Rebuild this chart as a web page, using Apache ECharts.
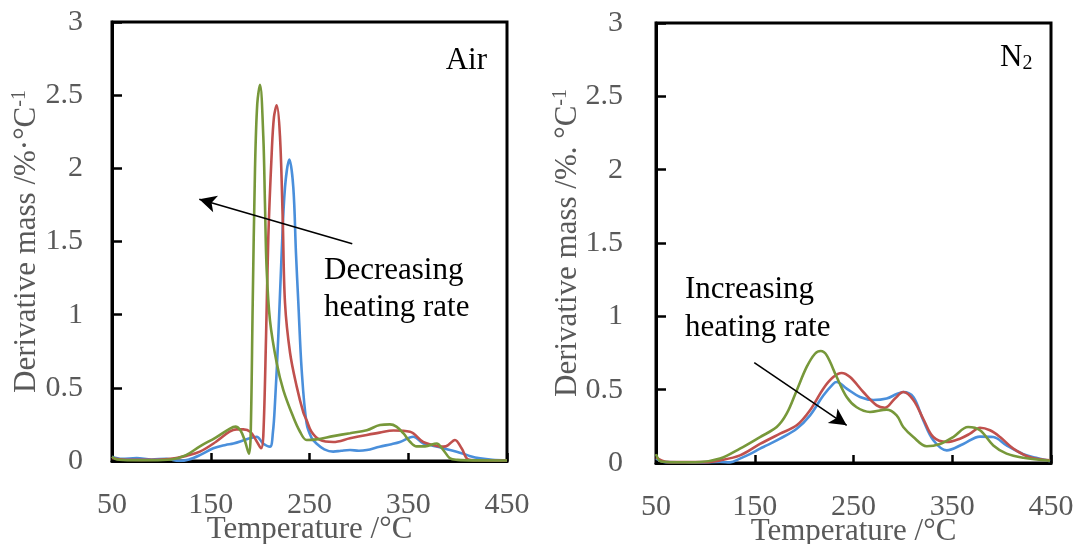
<!DOCTYPE html>
<html>
<head>
<meta charset="utf-8">
<script src="https://cdn.jsdelivr.net/npm/echarts@6/dist/echarts.min.js"></script>
<style>html,body{margin:0;padding:0;background:#fff;}#c{width:1083px;height:544px;}</style>
</head>
<body>
<div id="c"></div>
<script>
// ---- Air panel ----
const airBlueT = [50,60,75,90,105,118,128,139,152.6,165,173,186.4,196.5,203,210,213,215,218.4,221.8,225.2,229.6,233.6,236.3,238.7,242.1,247,252,257,265,274,282,291,300,308,321,333,341.6,355,365,372,385.5,399,405.8,412,422.7,435,450];
const airBlueV = [0.03,0.015,0.02,0.01,0.015,0.0,0.01,0.04,0.087,0.11,0.12,0.148,0.166,0.12,0.098,0.2,0.39,0.85,1.42,1.87,2.06,1.87,1.42,1.08,0.62,0.26,0.16,0.12,0.08,0.064,0.07,0.075,0.07,0.075,0.098,0.115,0.13,0.166,0.12,0.11,0.087,0.064,0.05,0.035,0.018,0.008,0.005];
const airRedT = [50,60,80,100,115,125,139,155,169,176,183,190,196,201,203.2,206,208.3,211.7,214,216.8,220.1,222.9,225.2,230.3,237,243.8,247,252,260.6,274,291,308,321,335,351.8,365,375,382,388,397.3,404,410.8,420,450];
const airRedV = [0.02,0.01,0.008,0.01,0.02,0.035,0.064,0.13,0.2,0.216,0.216,0.2,0.14,0.087,0.17,0.85,1.53,2.1,2.35,2.43,2.22,1.65,1.08,0.74,0.51,0.33,0.28,0.2,0.144,0.13,0.155,0.178,0.194,0.208,0.2,0.13,0.11,0.098,0.1,0.144,0.087,0.01,0.005,0.003];
const airGreenT = [50,55,70,90,110,125,139,155,169,175,180,184.5,188.7,190.4,192.5,194.8,197.1,199.9,203.2,204.9,206.6,210,216.8,223.5,233.6,240.4,247,257,274,291,308,321.4,331.5,338,345,352,358.5,367,378.8,385,392.3,400,420,450];
const airGreenV = [0.03,0.01,0.005,0.005,0.01,0.04,0.1,0.16,0.22,0.235,0.21,0.14,0.05,0.17,1.08,1.99,2.44,2.57,2.22,1.76,1.31,0.96,0.67,0.485,0.3,0.2,0.144,0.148,0.17,0.19,0.21,0.246,0.25,0.235,0.19,0.13,0.1,0.1,0.12,0.08,0.018,0.008,0.004,0.003];
// ---- N2 panel ----
const n2BlueT = [50,60,80,94.6,114.8,125,135,145,155.3,162,175.6,192.5,206,219.4,229.5,232.9,243.1,256.6,270,283.6,293.7,300.4,310.6,320.7,330.8,344.4,361.2,378.1,391.6,405,422,435,449];
const n2BlueV = [0.03,0.006,0.005,0.003,0.007,0.004,0.03,0.06,0.098,0.12,0.166,0.234,0.325,0.46,0.54,0.552,0.507,0.45,0.43,0.44,0.47,0.484,0.45,0.29,0.155,0.086,0.13,0.18,0.177,0.12,0.06,0.035,0.012];
const n2RedT = [50,60,80,100,114.8,135,155.3,175.6,192.5,206,219.4,229.5,238,246.5,259.9,273.5,281.9,292,300.4,310.6,320.7,330.8,344.4,357.8,368,378.1,388.2,398.4,411.8,428.7,449];
const n2RedV = [0.04,0.008,0.006,0.006,0.018,0.052,0.13,0.2,0.257,0.36,0.507,0.586,0.614,0.586,0.484,0.393,0.377,0.44,0.484,0.43,0.3,0.177,0.143,0.166,0.2,0.24,0.223,0.177,0.098,0.04,0.018];
const n2GreenT = [50,55,70,94.6,114.8,135,155.3,172.2,182.3,192.5,202.6,211,216.8,222.9,233,243.1,253.2,266.7,283.6,293.7,300.4,310.6,324.1,337.6,351,366,378.1,391.6,405,422,449];
const n2GreenV = [0.06,0.01,0.005,0.007,0.03,0.098,0.177,0.245,0.336,0.495,0.655,0.745,0.764,0.734,0.586,0.45,0.38,0.348,0.364,0.325,0.245,0.177,0.114,0.13,0.177,0.245,0.223,0.12,0.064,0.036,0.015];

const xTicks = [50,150,250,350,450];
const airArrow = [[293.3,1.485],[138.4,1.789]];
const n2Arrow = [[149.5,0.684],[243.1,0.257]];

const zip = (a,b)=>a.map((t,i)=>[t,b[i]]);
const FONT = 'Liberation Serif, Times New Roman, serif';
const GRAY = '#595959';
const COLORS = {blue:'#4a8fdb', red:'#c0504d', green:'#77983a'};

function xAx(idx){
  return {gridIndex:idx,type:'value',min:50,max:450,interval:100,
    axisLine:{show:true,onZero:false,lineStyle:{color:'#000',width:3}},
    axisTick:{show:true,inside:true,length:8,lineStyle:{color:'#000',width:2.5}},
    splitLine:{show:false},
    axisLabel:{color:GRAY,fontFamily:FONT,fontSize:30,margin:29,showMinLabel:true,showMaxLabel:true},
    name:'Temperature /°C',nameLocation:'middle',nameGap:53,nameMoveOverlap:false,
    nameTextStyle:{color:GRAY,fontFamily:FONT,fontSize:31}};
}
function yAx(idx,nameMain,gap,margin){
  return {gridIndex:idx,type:'value',min:0,max:3,interval:0.5,
    axisLine:{show:true,lineStyle:{color:'#000',width:3}},
    axisTick:{show:true,inside:true,length:10,lineStyle:{color:'#000',width:2.5}},
    splitLine:{show:false},
    axisLabel:{color:GRAY,fontFamily:FONT,fontSize:30,margin:margin},
    name:nameMain+'{sup|-1}',nameLocation:'middle',nameGap:gap,nameRotate:90,nameMoveOverlap:false,
    nameTextStyle:{color:GRAY,fontFamily:FONT,fontSize:31,
      rich:{sup:{color:GRAY,fontFamily:FONT,fontSize:20,verticalAlign:'top',padding:[0,0,14,0]}}}};
}
function ser(name,x,y,data,color){
  return {name:name,type:'line',xAxisIndex:x,yAxisIndex:y,data:data,showSymbol:false,symbol:'none',
    smooth:0.35,lineStyle:{color:color,width:2.6},itemStyle:{color:color},z:3};
}
function arrowSer(x,y,pts){
  return {type:'line',xAxisIndex:x,yAxisIndex:y,data:[],silent:true,
    markLine:{silent:true,symbol:['none','arrow'],symbolSize:[13,17],animation:false,
      lineStyle:{color:'#000',width:1.6,type:'solid'},label:{show:false},
      data:[[{coord:pts[0]},{coord:pts[1]}]]}};
}

const chart = echarts.init(document.getElementById('c'),null,{renderer:'canvas'});
chart.setOption({
  animation:false,
  backgroundColor:'#fff',
  grid:[
    {left:112,top:22,width:395,height:439,show:true,borderColor:'#000',borderWidth:3,backgroundColor:'transparent',containLabel:false,outerBoundsMode:'none'},
    {left:656,top:23,width:395,height:440,show:true,borderColor:'#000',borderWidth:3,backgroundColor:'transparent',containLabel:false,outerBoundsMode:'none'}
  ],
  xAxis:[xAx(0),xAx(1)],
  yAxis:[yAx(0,'Derivative mass /%·°C',68,29),yAx(1,'Derivative mass /%. °C',71,33)],
  series:[
    ser('Air blue',0,0,zip(airBlueT,airBlueV),COLORS.blue),
    ser('Air red',0,0,zip(airRedT,airRedV),COLORS.red),
    ser('Air green',0,0,zip(airGreenT,airGreenV),COLORS.green),
    ser('N2 blue',1,1,zip(n2BlueT,n2BlueV),COLORS.blue),
    ser('N2 red',1,1,zip(n2RedT,n2RedV),COLORS.red),
    ser('N2 green',1,1,zip(n2GreenT,n2GreenV),COLORS.green),
    arrowSer(0,0,airArrow),
    arrowSer(1,1,n2Arrow)
  ],
  graphic:[
    {type:'text',right:1083-487,top:45,style:{text:'Air',fontFamily:FONT,fontSize:31,fill:'#000'}},
    {type:'text',left:324,top:252,style:{text:'Decreasing\nheating rate',fontFamily:FONT,fontSize:31,lineHeight:37,fill:'#000'}},
    {type:'text',left:685,top:271,style:{text:'Increasing\nheating rate',fontFamily:FONT,fontSize:31,lineHeight:38,fill:'#000'}},
    {type:'text',left:1000,top:42,style:{text:'{n|N}{s|2}',rich:{n:{fontFamily:FONT,fontSize:31,fill:'#000',color:'#000'},s:{fontFamily:FONT,fontSize:20,color:'#000',verticalAlign:'bottom',padding:[12,0,0,0]}}}}
  ]
});
</script>
</body>
</html>
